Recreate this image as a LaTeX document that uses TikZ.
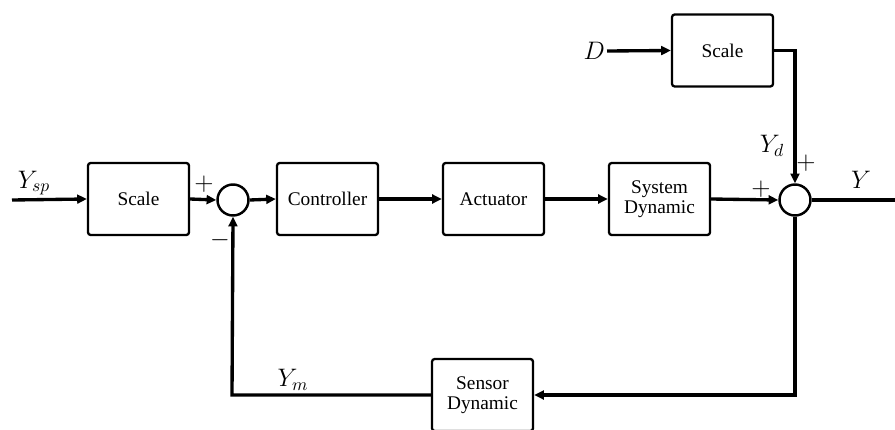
\documentclass[tikz,border=0pt]{standalone}
\usepackage{fontspec}
\setmainfont{Liberation Serif}
\usepackage{tikz}
\usetikzlibrary{arrows.meta}
\tikzset{
    block/.style={rectangle, draw, line width=1.3pt, rounded corners=1.5pt, minimum width=2.02cm, minimum height=1.44cm, align=center, font=\fontsize{11}{12.5}\selectfont},
    sum/.style={circle, draw, line width=1.4pt, minimum size=0.62cm, inner sep=0pt},
    signal/.style={line width=1.9pt, -{Triangle[length=5.5pt,width=5pt]}},
    wire/.style={line width=1.9pt},
    sig label/.style={font=\Large},
    sign/.style={font=\Large, inner sep=0pt}
}

\begin{document}
\begin{tikzpicture}[x=0.02cm, y=-0.02cm]
    \path[use as bounding box, clip] (0,0) rectangle (895,429);

    % Forward path
    \coordinate (in) at (12,200);
    \node[block] (scaleA) at (138.5,199) {Scale};
    \node[sum] (sumA) at (233,200) {};
    \node[block] (ctrl) at (327.5,199) {Controller};
    \node[block] (act) at (493.5,199) {Actuator};
    \node[block] (sys) at (659.5,199) {System\\[-1pt]Dynamic};
    \node[sum] (sumB) at (795,200) {};
    \coordinate (out) at (895,200);

    % Disturbance branch
    \node[sig label, anchor=east, inner sep=1pt] (dist) at (607,51) {$D$};
    \node[block] (scaleB) at (722.5,50.5) {Scale};

    % Feedback path
    \node[block] (sensor) at (482.5,395) {Sensor\\[-1pt]Dynamic};
    \coordinate (fbR) at (795,395);
    \coordinate (fbL) at (232,395);

    % Connections
    \draw[signal] (in) -- (scaleA.west);
    \draw[signal] (scaleA.east) -- (sumA.west);
    \draw[signal] (sumA.east) -- (ctrl.west);
    \draw[signal] (ctrl.east) -- (act.west);
    \draw[signal] (act.east) -- (sys.west);
    \draw[signal] (sys.east) -- (sumB.west);
    \draw[wire] (sumB.east) -- (out);
    \draw[signal] (dist.east) -- (scaleB.west);
    \draw[signal] (scaleB.east) -| (sumB.north);
    \draw[signal] (sumB.south) -- (fbR) -- (sensor.east);
    \draw[signal] (sensor.west) -- (fbL) -- (sumA.south);

    % Signal labels and signs
    \node[sig label] (ysp) at (34,183) {$Y_{sp}$};
    \node[sign] (pA) at (204,184) {$+$};
    \node[sign] (mA) at (220,240) {$-$};
    \node[sig label] (yd) at (772,146) {$Y_d$};
    \node[sign] (pB) at (806,163) {$+$};
    \node[sign] (pC) at (761,189) {$+$};
    \node[sig label] (yout) at (861,180) {$Y$};
    \node[sig label] (ym) at (293,380) {$Y_m$};
\end{tikzpicture}
\end{document}
